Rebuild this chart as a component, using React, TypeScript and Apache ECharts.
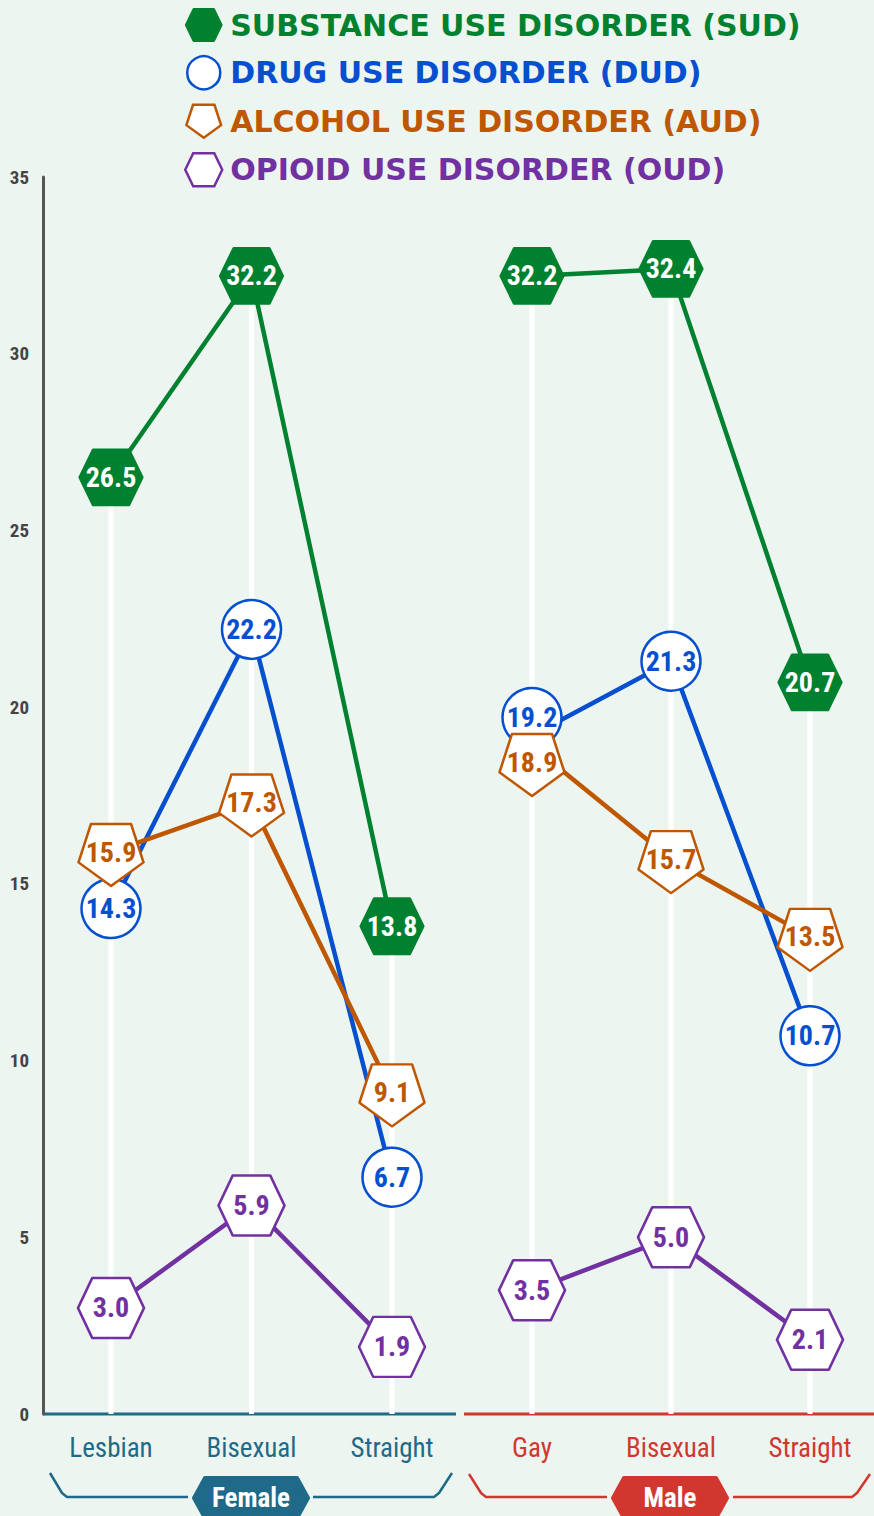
import React, { useEffect, useRef } from 'react';
import * as echarts from 'echarts';

// ---------- data ----------
const femaleCategories = ['Lesbian', 'Bisexual', 'Straight'];
const maleCategories = ['Gay', 'Bisexual', 'Straight'];
const groupLabels = ['Female', 'Male'];

const seriesNames = [
  'SUBSTANCE USE DISORDER (SUD)',
  'DRUG USE DISORDER (DUD)',
  'ALCOHOL USE DISORDER (AUD)',
  'OPIOID USE DISORDER (OUD)',
];

const sudFemale = [26.5, 32.2, 13.8];
const sudMale = [32.2, 32.4, 20.7];
const dudFemale = [14.3, 22.2, 6.7];
const dudMale = [19.2, 21.3, 10.7];
const audFemale = [15.9, 17.3, 9.1];
const audMale = [18.9, 15.7, 13.5];
const oudFemale = [3.0, 5.9, 1.9];
const oudMale = [3.5, 5.0, 2.1];

const yMin = 0;
const yMax = 35;
const yInterval = 5;

// ---------- styles ----------
const BG = '#edf5f0';
const GREEN = '#00812f';
const BLUE = '#0650cf';
const ORANGE = '#bf5700';
const PURPLE = '#7131a0';
const TEAL = '#1f6a89';
const RED = '#d2372f';
const AXIS = '#555555';

const NARROW = "'Liberation Sans Narrow', 'Roboto Condensed', 'Arial Narrow', sans-serif";

const HEX = 'path://M14,0 L51,0 L65,29 L51,58 L14,58 L0,29 Z';
const PENT = 'path://M36.3,0 L153.9,0 L190.2,111.8 L95.1,180.9 L0,111.8 Z';

// pixel nudges of markers (female / male) to keep overlapping markers apart
const markerNudge = [
  [[0, 0, 0], [0, 0, 0]],
  [[0, 0, 0], [-18, 0, 0]],
  [[0, 0, 0], [16, 0, 0]],
  [[0, 0, 0], [0, 0, 0]],
];

const measures = [
  {
    name: seriesNames[0],
    data: [sudFemale, sudMale],
    color: GREEN,
    symbol: HEX,
    size: [62, 55],
    baseOffset: 0,
    itemStyle: { color: GREEN, borderColor: GREEN, borderWidth: 3, borderJoin: 'round', opacity: 1 },
    labelColor: '#ffffff',
  },
  {
    name: seriesNames[1],
    data: [dudFemale, dudMale],
    color: BLUE,
    symbol: 'circle',
    size: 59,
    baseOffset: 0,
    itemStyle: { color: '#ffffff', borderColor: BLUE, borderWidth: 2.5, opacity: 1 },
    labelColor: BLUE,
  },
  {
    name: seriesNames[2],
    data: [audFemale, audMale],
    color: ORANGE,
    symbol: PENT,
    size: [65, 62],
    baseOffset: 3,
    itemStyle: { color: '#ffffff', borderColor: ORANGE, borderWidth: 2.5, borderJoin: 'round', opacity: 1 },
    labelColor: ORANGE,
  },
  {
    name: seriesNames[3],
    data: [oudFemale, oudMale],
    color: PURPLE,
    symbol: HEX,
    size: [66, 60],
    baseOffset: 0,
    itemStyle: { color: '#ffffff', borderColor: PURPLE, borderWidth: 2.5, borderJoin: 'round', opacity: 1 },
    labelColor: PURPLE,
  },
];

function buildOption() {
  const cats = [femaleCategories, maleCategories];
  const groupColors = [TEAL, RED];

  const grids = [
    { left: 111, top: 177, width: 281, bottom: 102 },
    { left: 532, top: 177, width: 278, bottom: 102 },
  ];

  const xAxes = cats.map((c, i) => ({
    type: 'category',
    gridIndex: i,
    data: c,
    boundaryGap: false,
    axisLine: { show: false },
    axisTick: { show: false },
    splitLine: { show: false },
    axisLabel: {
      color: groupColors[i],
      fontFamily: NARROW,
      fontSize: 27,
      margin: 20,
      interval: 0,
    },
  }));

  const yAxes = [0, 1].map((i) => ({
    type: 'value',
    gridIndex: i,
    min: yMin,
    max: yMax,
    interval: yInterval,
    show: i === 0,
    offset: i === 0 ? 68 : 0,
    axisLine: { show: i === 0, lineStyle: { color: AXIS, width: 3 } },
    axisTick: { show: false },
    splitLine: { show: false },
    axisLabel: {
      color: '#444444',
      fontFamily: NARROW,
      fontWeight: 'bold',
      fontSize: 19,
      margin: 14,
    },
  }));

  const series: any[] = [];

  // white vertical guides up to the highest value in each category
  [0, 1].forEach((g) => {
    const maxVals = cats[g].map((_, k) =>
      Math.max(...measures.map((m) => m.data[g][k]))
    );
    series.push({
      type: 'bar',
      name: 'guide' + g,
      xAxisIndex: g,
      yAxisIndex: g,
      data: maxVals,
      barWidth: 5,
      clip: false,
      itemStyle: { color: '#ffffff' },
      silent: true,
      z: 1,
    });
  });

  measures.forEach((m) => {
    [0, 1].forEach((g) => {
      series.push({
        type: 'line',
        name: m.name,
        xAxisIndex: g,
        yAxisIndex: g,
        data: m.data[g],
        symbol: 'none',
        showSymbol: false,
        clip: false,
        lineStyle: { color: m.color, width: 4.5 },
        itemStyle: { color: m.color },
        silent: true,
        z: 2,
      });
    });
  });

  measures.forEach((m, mi) => {
    [0, 1].forEach((g) => {
      series.push({
        type: 'scatter',
        name: m.name,
        xAxisIndex: g,
        yAxisIndex: g,
        clip: false,
        data: m.data[g].map((v, k) => ({
          value: v,
          symbolOffset: [0, m.baseOffset + markerNudge[mi][g][k]],
        })),
        symbol: m.symbol,
        symbolSize: m.size,
        symbolKeepAspect: false,
        itemStyle: m.itemStyle,
        emphasis: { disabled: true },
        label: {
          show: true,
          position: 'inside',
          formatter: (p: any) => Number(p.value).toFixed(1),
          color: m.labelColor,
          fontFamily: NARROW,
          fontWeight: 'bold',
          fontSize: 28,
          offset: [0, -m.baseOffset],
        },
        z: 3 + mi,
      });
    });
  });

  const legendData = measures.map((m, i) => ({
    name: m.name,
    icon: m.symbol,
    itemStyle:
      i === 0
        ? { color: m.color, borderColor: m.color, borderWidth: 1, opacity: 1 }
        : { color: '#ffffff', borderColor: m.color, borderWidth: 2.5, opacity: 1 },
    textStyle: { color: m.color },
  }));

  const bracket = (pts: number[][], color: string) => ({
    type: 'polyline',
    shape: { points: pts },
    style: { stroke: color, lineWidth: 2.5, fill: null, lineJoin: 'round' },
    silent: true,
  });

  const pill = (cx: number, cy: number, label: string, color: string) => ({
    type: 'group',
    silent: true,
    children: [
      {
        type: 'polygon',
        shape: {
          points: [
            [cx - 57, cy],
            [cx - 46, cy - 20],
            [cx + 46, cy - 20],
            [cx + 57, cy],
            [cx + 46, cy + 20],
            [cx - 46, cy + 20],
          ],
        },
        style: { fill: color, stroke: color, lineWidth: 4, lineJoin: 'round' },
      },
      {
        type: 'text',
        x: cx,
        y: cy,
        style: {
          text: label,
          fill: '#ffffff',
          font: `bold 27px ${NARROW}`,
          align: 'center',
          verticalAlign: 'middle',
        },
      },
    ],
  });

  return {
    animation: false,
    backgroundColor: BG,
    grid: grids,
    xAxis: xAxes,
    yAxis: yAxes,
    legend: {
      orient: 'vertical',
      left: 184,
      top: 8,
      padding: 0,
      itemWidth: 37,
      itemHeight: 33,
      itemGap: 13,
      selectedMode: false,
      data: legendData,
      textStyle: {
        fontFamily: "'DejaVu Sans', sans-serif",
        fontWeight: 'bold',
        fontSize: 30,
        padding: [0, 0, 0, 3],
      },
    },
    graphic: [
      {
        type: 'line',
        shape: { x1: 43, y1: 1414, x2: 456, y2: 1414 },
        style: { stroke: TEAL, lineWidth: 3 },
        silent: true,
      },
      {
        type: 'line',
        shape: { x1: 464, y1: 1414, x2: 874, y2: 1414 },
        style: { stroke: RED, lineWidth: 3 },
        silent: true,
      },
      bracket([[50, 1473], [62, 1493], [67, 1497], [188, 1497]], TEAL),
      bracket([[313, 1497], [434, 1497], [439, 1493], [452, 1473]], TEAL),
      bracket([[469, 1474], [481, 1493], [486, 1497], [607, 1497]], RED),
      bracket([[733, 1497], [852, 1497], [857, 1493], [870, 1474]], RED),
      pill(251, 1498, groupLabels[0], TEAL),
      pill(670, 1498, groupLabels[1], RED),
    ],
    series,
  };
}

export default function App() {
  const ref = useRef<HTMLDivElement>(null);
  useEffect(() => {
    document.body.style.margin = '0';
    document.body.style.background = BG;
    if (!ref.current) return;
    const chart = echarts.init(ref.current, null, { renderer: 'svg' });
    chart.setOption(buildOption() as any);
    return () => chart.dispose();
  }, []);
  return <div ref={ref} style={{ width: 874, height: 1516 }} />;
}
